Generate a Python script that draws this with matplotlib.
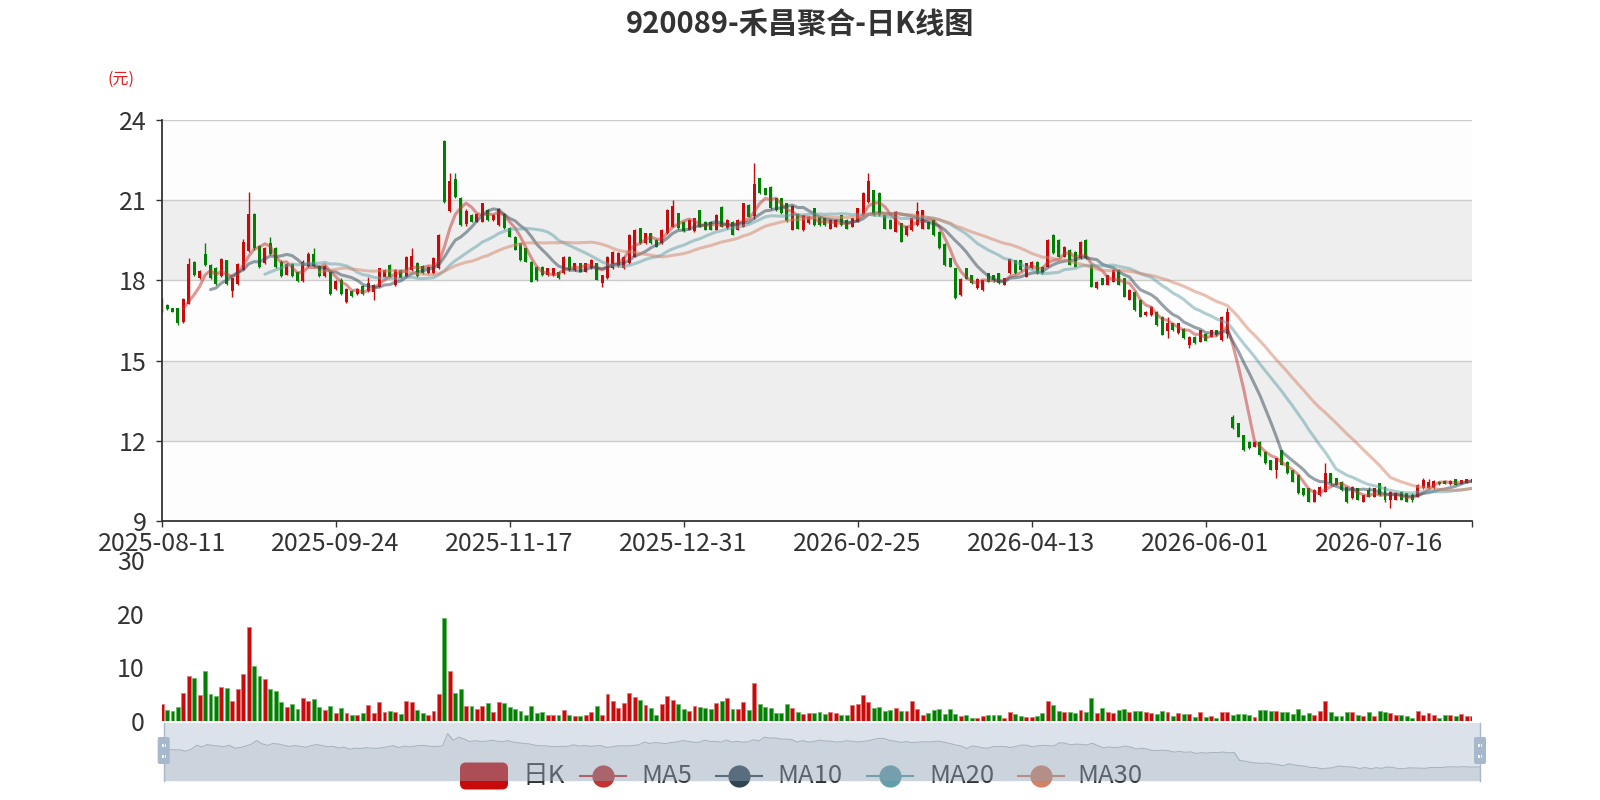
import numpy as np
import pandas as pd
import matplotlib
matplotlib.use("Agg")
import matplotlib.pyplot as plt
from matplotlib.patches import Rectangle, FancyBboxPatch

plt.rcParams['font.family'] = ['Noto Sans CJK SC', 'DejaVu Sans']

title = "920089-禾昌聚合-日K线图"
tick_dates = ["2025-08-11", "2025-09-24", "2025-11-17", "2025-12-31",
              "2026-02-25", "2026-04-13", "2026-06-01", "2026-07-16"]
legend_names = ["日K", "MA5", "MA10", "MA20", "MA30"]
ma_periods = [5, 10, 20, 30]

# daily OHLC (yuan)
opens = [16.88, 17.08, 16.95, 16.95, 16.45, 17.12, 18.70, 18.10, 19.00, 18.58,
         18.45, 18.15, 18.76, 17.60, 17.85, 18.40, 19.10, 20.50, 19.30, 18.65,
         19.40, 19.20, 18.70, 18.22, 18.60, 18.30, 17.98, 18.55, 19.00, 18.55,
         18.16, 18.30, 17.66, 18.00, 17.20, 17.62, 17.48, 17.80, 17.60, 17.55,
         17.77, 18.14, 18.58, 17.83, 18.39, 18.14, 18.39, 18.66, 18.55, 18.26,
         18.26, 18.45, 23.23, 20.60, 21.80, 21.10, 20.10, 20.45, 20.20, 20.20,
         20.63, 20.26, 20.07, 20.50, 19.95, 19.64, 19.39, 19.20, 18.70, 18.51,
         18.51, 18.20, 18.20, 18.33, 18.26, 18.89, 18.39, 18.64, 18.33, 18.45,
         18.64, 17.90, 18.08, 18.45, 18.52, 18.45, 18.64, 18.89, 19.95, 19.39,
         19.76, 19.52, 19.39, 19.76, 20.00, 20.51, 20.20, 19.89, 19.83, 20.63,
         20.20, 20.20, 19.89, 20.76, 19.95, 20.20, 19.89, 20.00, 20.82, 20.40,
         21.82, 21.45, 21.50, 21.07, 21.07, 20.88, 19.90, 20.50, 19.88, 20.13,
         20.69, 20.38, 20.32, 19.94, 20.01, 20.44, 20.26, 20.01, 20.19, 20.44,
         20.94, 21.38, 21.28, 20.44, 20.26, 19.82, 20.13, 19.69, 19.88, 20.07,
         19.94, 20.19, 20.26, 19.82, 19.38, 18.82, 18.45, 17.45, 18.45, 18.20,
         17.70, 17.64, 18.26, 18.20, 18.26, 17.83, 18.26, 18.76, 18.76, 18.14,
         18.45, 18.70, 18.51, 18.51, 19.70, 19.51, 18.89, 19.14, 19.07, 18.83,
         19.51, 18.58, 17.70, 18.08, 17.83, 17.95, 18.39, 18.08, 17.27, 17.58,
         17.27, 16.70, 16.70, 16.83, 16.64, 16.10, 16.39, 16.02, 16.20, 15.60,
         15.89, 15.71, 16.00, 15.89, 16.14, 15.77, 16.00, 12.90, 12.65, 12.20,
         11.96, 11.78, 11.96, 11.59, 11.28, 10.90, 11.65, 11.22, 10.90, 10.72,
         10.22, 10.22, 9.72, 9.97, 10.10, 10.78, 10.60, 10.47, 10.28, 9.85,
         10.22, 9.72, 10.16, 9.91, 10.41, 10.28, 9.79, 9.79, 10.10, 10.03,
         9.97, 9.91, 10.22, 10.22, 10.22, 10.47, 10.50, 10.38, 10.56, 10.40,
         10.43, 10.45]
closes = [17.27, 16.92, 16.83, 16.42, 17.30, 18.60, 18.20, 18.35, 18.58, 18.10,
          17.85, 18.80, 17.85, 18.08, 18.60, 19.45, 20.50, 19.20, 18.50, 19.20,
          18.98, 18.50, 18.18, 18.60, 18.16, 17.98, 18.70, 19.00, 18.55, 18.16,
          18.55, 17.50, 17.98, 17.50, 17.66, 17.42, 17.68, 17.48, 17.90, 17.83,
          18.45, 18.39, 18.14, 18.39, 18.10, 18.89, 18.90, 18.16, 18.26, 18.51,
          18.83, 19.70, 20.95, 21.70, 21.13, 20.07, 20.60, 20.20, 20.50, 20.88,
          20.26, 20.45, 20.66, 19.95, 19.64, 19.14, 18.76, 18.70, 17.95, 18.00,
          18.20, 18.45, 18.45, 18.08, 18.89, 18.39, 18.64, 18.33, 18.64, 18.77,
          18.02, 18.20, 18.89, 19.08, 19.02, 18.89, 19.70, 19.89, 19.39, 19.76,
          19.39, 19.26, 19.89, 20.63, 20.80, 19.95, 19.83, 20.26, 20.32, 20.00,
          19.89, 19.89, 20.45, 20.00, 20.26, 19.70, 20.26, 20.88, 20.39, 21.60,
          21.26, 21.20, 20.70, 20.63, 20.51, 20.22, 20.80, 19.94, 20.44, 20.38,
          20.07, 20.07, 20.07, 20.26, 20.26, 20.07, 19.94, 20.32, 20.69, 21.28,
          21.70, 20.44, 20.44, 19.94, 19.94, 20.57, 19.45, 20.03, 20.32, 20.60,
          20.63, 19.94, 19.69, 19.20, 18.57, 18.51, 17.33, 18.07, 18.07, 17.89,
          18.07, 18.01, 17.95, 18.00, 17.90, 18.08, 18.79, 18.26, 18.39, 18.64,
          18.70, 18.26, 18.26, 19.51, 19.01, 18.89, 19.26, 18.58, 18.51, 19.45,
          18.83, 17.77, 17.95, 17.83, 18.20, 18.39, 17.83, 17.39, 17.64, 16.89,
          16.64, 16.83, 17.02, 16.33, 15.96, 16.40, 16.14, 16.39, 15.84, 15.90,
          15.64, 16.14, 15.75, 16.14, 15.95, 16.64, 16.80, 12.47, 12.15, 11.65,
          11.72, 11.96, 11.47, 11.16, 10.91, 11.34, 11.10, 10.78, 10.47, 10.03,
          9.97, 9.72, 10.16, 10.28, 10.80, 10.41, 10.35, 10.16, 9.72, 10.28,
          9.79, 9.97, 9.91, 10.22, 9.97, 9.79, 10.10, 10.03, 9.79, 9.72,
          9.80, 10.35, 10.55, 10.47, 10.50, 10.38, 10.40, 10.50, 10.35, 10.53,
          10.56, 10.58]
highs = [17.35, 17.12, 16.98, 16.98, 17.35, 18.83, 18.72, 18.38, 19.41, 18.60,
         18.51, 18.83, 18.78, 18.10, 18.66, 19.54, 21.32, 20.51, 19.32, 19.26,
         19.64, 19.26, 18.76, 18.64, 18.64, 18.33, 18.76, 19.07, 19.20, 18.58,
         18.58, 18.33, 18.01, 18.08, 17.70, 17.64, 17.70, 17.83, 18.14, 17.85,
         18.48, 18.42, 18.60, 18.42, 18.42, 18.92, 19.20, 18.68, 18.58, 18.53,
         18.86, 19.74, 23.25, 22.00, 22.00, 21.13, 20.66, 20.48, 20.53, 20.90,
         20.66, 20.48, 20.70, 20.52, 19.98, 19.66, 19.41, 19.22, 18.72, 18.53,
         18.53, 18.47, 18.47, 18.35, 18.92, 18.92, 18.66, 18.66, 18.66, 18.80,
         18.66, 18.22, 18.92, 19.10, 19.05, 18.92, 19.72, 19.92, 19.97, 19.78,
         19.78, 19.54, 19.92, 20.66, 21.00, 20.53, 20.22, 20.28, 20.35, 20.65,
         20.22, 20.22, 20.48, 20.78, 20.28, 20.22, 20.28, 20.90, 20.84, 22.38,
         21.84, 21.47, 21.52, 21.09, 21.09, 20.90, 20.82, 20.52, 20.46, 20.40,
         20.71, 20.40, 20.34, 20.28, 20.28, 20.46, 20.28, 20.34, 20.71, 21.30,
         22.00, 21.40, 21.30, 20.46, 20.28, 20.59, 20.15, 20.05, 20.34, 20.94,
         20.65, 20.21, 20.28, 19.84, 19.40, 18.84, 18.47, 18.09, 18.47, 18.22,
         18.09, 18.03, 18.28, 18.22, 18.28, 18.10, 18.81, 18.78, 18.78, 18.66,
         18.72, 18.72, 18.53, 19.53, 19.72, 19.53, 19.28, 19.16, 19.09, 19.47,
         19.53, 18.60, 17.97, 18.10, 18.22, 18.41, 18.41, 18.10, 17.66, 17.60,
         17.29, 16.85, 17.04, 16.85, 16.66, 16.64, 16.41, 16.41, 16.22, 15.92,
         15.91, 16.16, 16.02, 16.16, 16.16, 16.66, 16.95, 12.95, 12.67, 12.22,
         11.98, 11.98, 11.98, 11.61, 11.30, 11.36, 11.67, 11.24, 10.92, 10.74,
         10.24, 10.24, 10.18, 10.30, 11.16, 10.80, 10.62, 10.49, 10.30, 10.30,
         10.24, 9.99, 10.28, 10.24, 10.43, 10.30, 10.12, 10.10, 10.12, 10.05,
         10.03, 10.37, 10.60, 10.56, 10.52, 10.49, 10.52, 10.52, 10.58, 10.55,
         10.58, 10.60]
lows = [16.83, 16.88, 16.80, 16.35, 16.40, 17.10, 18.15, 18.05, 18.55, 18.05,
        17.83, 18.14, 17.83, 17.39, 17.83, 18.39, 19.07, 19.14, 18.45, 18.61,
        18.95, 18.45, 18.14, 18.20, 18.14, 17.95, 17.95, 18.51, 18.51, 18.14,
        18.14, 17.45, 17.64, 17.45, 17.14, 17.39, 17.45, 17.45, 17.55, 17.27,
        17.75, 18.12, 18.12, 17.80, 18.08, 18.12, 18.36, 18.14, 18.24, 18.24,
        18.24, 18.42, 20.90, 20.57, 21.10, 20.05, 20.05, 20.18, 20.18, 20.18,
        20.24, 20.24, 20.05, 19.93, 19.62, 19.12, 18.74, 18.68, 17.93, 17.98,
        18.18, 18.18, 18.18, 18.06, 18.24, 18.37, 18.37, 18.31, 18.31, 18.43,
        18.00, 17.77, 18.06, 18.43, 18.50, 18.43, 18.62, 18.87, 19.37, 19.37,
        19.37, 19.24, 19.37, 19.74, 19.98, 19.93, 19.81, 19.87, 19.81, 19.98,
        19.87, 19.87, 19.87, 19.98, 19.93, 19.68, 19.87, 19.98, 20.37, 20.30,
        21.24, 21.18, 20.68, 20.61, 20.49, 20.19, 19.88, 19.92, 19.86, 20.11,
        20.05, 20.05, 20.05, 19.92, 19.99, 20.05, 19.92, 19.99, 20.17, 20.42,
        20.90, 20.42, 20.42, 19.92, 19.92, 19.80, 19.43, 19.67, 19.86, 20.05,
        19.92, 19.92, 19.67, 19.18, 18.55, 18.49, 17.31, 17.43, 18.05, 17.87,
        17.68, 17.62, 17.93, 17.95, 17.88, 17.81, 18.24, 18.24, 18.37, 18.12,
        18.43, 18.24, 18.24, 18.49, 18.99, 18.87, 18.87, 18.56, 18.49, 18.81,
        18.81, 17.75, 17.68, 17.81, 17.81, 17.93, 17.81, 17.37, 17.25, 16.87,
        16.62, 16.68, 16.68, 16.31, 15.94, 15.84, 16.12, 16.00, 15.82, 15.46,
        15.62, 15.69, 15.73, 15.87, 15.93, 15.75, 15.83, 12.45, 12.13, 11.63,
        11.70, 11.76, 11.45, 11.14, 10.89, 10.60, 11.08, 10.76, 10.45, 10.01,
        9.95, 9.70, 9.70, 9.95, 10.08, 10.39, 10.33, 10.14, 9.66, 9.83,
        9.77, 9.70, 9.89, 9.89, 9.95, 9.72, 9.47, 9.77, 9.77, 9.70,
        9.72, 9.89, 10.20, 10.20, 10.20, 10.36, 10.38, 10.36, 10.33, 10.38,
        10.41, 10.43]
# daily volume (axis units as shown)
volumes = [3.2, 2.05, 1.8, 2.6, 5.2, 8.4, 8.0, 4.9, 9.3, 5.05,
           4.75, 6.4, 6.2, 3.7, 6.0, 8.7, 17.6, 10.3, 8.4, 7.75,
           5.9, 5.6, 3.45, 2.7, 3.1, 2.25, 4.3, 3.8, 4.1, 2.7,
           2.0, 2.75, 1.47, 2.4, 1.47, 1.2, 1.2, 1.47, 2.95, 1.5,
           3.45, 1.66, 1.9, 1.66, 1.3, 3.7, 3.45, 2.0, 1.47, 1.2,
           1.8, 5.05, 19.2, 9.3, 5.25, 5.9, 2.8, 2.75, 2.25, 2.8,
           3.3, 1.66, 3.5, 3.3, 2.6, 2.2, 1.8, 1.2, 2.75, 1.47,
           1.66, 1.2, 1.1, 1.1, 2.0, 1.1, 1.0, 1.0, 1.1, 1.66,
           2.75, 1.2, 5.0, 3.65, 2.4, 3.4, 5.2, 4.5, 4.0, 3.0,
           2.4, 1.2, 3.1, 4.6, 4.0, 3.2, 2.25, 1.85, 2.75, 2.6,
           2.4, 2.25, 3.4, 3.8, 4.35, 2.2, 2.2, 3.45, 2.0, 7.1,
           3.1, 2.6, 2.5, 1.47, 1.47,
           3.2, 2.4, 1.7, 1.3, 1.45, 1.45, 1.7, 1.3, 1.7, 1.45,
           1.1, 1.1, 2.9, 3.2, 4.8, 3.5, 2.5, 2.6, 1.9, 2.0,
           2.35, 1.8, 1.8, 3.75, 2.2, 1.15, 1.5, 2.0, 2.2, 1.3,
           2.2, 1.3, 0.95, 1.15, 0.65, 0.65, 0.95, 1.1, 1.1, 1.1,
           0.5, 1.65, 1.3, 0.95, 0.8, 0.75, 0.95, 1.45, 3.7, 3.05,
           1.8, 1.6, 1.7, 1.45, 2.1, 1.6, 4.3, 1.5, 2.4, 1.65,
           1.5, 2.0, 2.2, 1.6, 1.9, 1.9, 1.7, 1.5, 1.3, 1.85,
           1.7, 0.95, 1.5, 1.3, 1.3, 0.75, 1.6, 0.8, 0.95, 0.65,
           1.6, 1.7, 1.1, 1.3, 1.3, 1.15, 0.8, 2.0, 2.0, 1.9,
           1.9, 1.7, 1.7, 1.3, 2.2, 1.2, 1.4, 1.15, 1.9, 3.8,
           1.7, 0.95, 0.95, 1.7, 1.6, 1.2, 0.95, 1.65, 0.95, 1.85,
           1.7, 1.45, 1.15, 1.15, 0.9, 0.5, 1.85, 1.15, 1.4, 1.2,
           0.55, 1.1, 1.1, 0.95, 1.3, 0.95, 1.0]

UP = "#c80a0a"
DOWN = "#008000"
MA_COLORS = ["#c23531", "#2f4554", "#61a0a8", "#d48265"]
TXT = "#333333"

o = np.array(opens)
c = np.array(closes)
h = np.array(highs)
l = np.array(lows)
v = np.array(volumes)
n = len(c)
x = np.arange(n)
up = c >= o
cols = np.where(up, UP, DOWN)

W, H = 1600, 800
def box(left, top, right, bottom):
    return [left / W, 1 - bottom / H, (right - left) / W, (bottom - top) / H]

fig = plt.figure(figsize=(16, 8), dpi=100)

# ---- candlestick panel ----
ax = fig.add_axes(box(161.6, 120, 1472, 521))
for i, lo in enumerate(range(9, 24, 3)):
    ax.axhspan(lo, lo + 3, color="#fdfdfd" if i % 2 == 0 else "#eeeeee", lw=0, zorder=0)
for yv in [12, 15, 18, 21, 24]:
    ax.axhline(yv, color="#cccccc", lw=1, zorder=1)

ax.vlines(x, l, h, colors=cols, lw=1, zorder=3)
body = np.maximum(np.abs(c - o), 0.04)
ax.bar(x, body, bottom=np.minimum(o, c), width=0.55, color=cols, lw=0, zorder=3)

s = pd.Series(c)
for p, colr in zip(ma_periods, MA_COLORS):
    ax.plot(x, s.rolling(p).mean(), color=colr, alpha=0.5, lw=2.2, zorder=4,
            solid_capstyle="round", solid_joinstyle="round")

ax.set_xlim(0, n - 1)
ax.set_ylim(9, 24)
ax.set_yticks([9, 12, 15, 18, 21, 24])
ax.set_xticks(list(range(0, n, 32)))
ax.set_xticklabels(tick_dates)
ax.set_xticks([n - 1], minor=True)
for side in ["top", "right"]:
    ax.spines[side].set_visible(False)
for side in ["left", "bottom"]:
    ax.spines[side].set_color(TXT)
    ax.spines[side].set_linewidth(1.3)
    ax.spines[side].set_zorder(5)
ax.tick_params(axis="both", which="both", colors=TXT, labelsize=18, length=4, width=1)
ax.tick_params(axis="y", pad=7)
ax.tick_params(axis="x", pad=3)

# ---- volume panel ----
axv = fig.add_axes(box(161.6, 560, 1472, 721))
vcols = np.where(up, UP, DOWN)
ecols = np.where(up, "#e07a7a", "#6fb86f")
axv.bar(x, v, width=0.72, color=vcols, edgecolor=ecols, lw=0.6)
axv.set_xlim(0, n - 1)
axv.set_ylim(0, 30)
axv.set_yticks([0, 10, 20, 30])
axv.set_xticks([])
for side in axv.spines:
    axv.spines[side].set_visible(False)
axv.tick_params(axis="y", colors=TXT, labelsize=18, length=0, pad=12)

# ---- texts ----
fig.text(800 / W, 1 - 24 / H, title, ha="center", va="center", fontsize=21,
         fontweight="bold", color=TXT)
fig.text(121 / W, 1 - 79 / H, "(元)", ha="center", va="center", fontsize=11.5, color="#e02020")

# ---- legend (drawn beneath the zoom slider) ----
axl = fig.add_axes([0, 0, 1, 1], zorder=3)
axl.set_xlim(0, W)
axl.set_ylim(H, 0)
axl.axis("off")
axl.patch.set_alpha(0)
ly = 776
axl.add_patch(FancyBboxPatch((460, ly - 13.5), 48, 27, boxstyle="round,pad=0,rounding_size=6",
                             fc=UP, ec="none"))
axl.text(522, ly, legend_names[0], ha="left", va="center", fontsize=18.5, color=TXT)
icon_x = [603, 739, 890, 1041]
text_x = [641, 777, 929, 1077]
for name, ix, tx, colr in zip(legend_names[1:], icon_x, text_x, MA_COLORS):
    axl.plot([ix - 23, ix + 23], [ly, ly], color=colr, lw=1.5)
    axl.plot([ix], [ly], marker="o", ms=16, color=colr, mec="none")
    axl.text(tx, ly, name, ha="left", va="center", fontsize=18.5, color=TXT)

# ---- dataZoom slider ----
axz = fig.add_axes(box(163.7, 723, 1480, 781), zorder=4)
axz.patch.set_alpha(0)
axz.add_patch(Rectangle((0, 0), 1, 1, transform=axz.transAxes,
                        fc=(167 / 255, 183 / 255, 204 / 255, 0.4), ec="none"))
axz.fill_between(x, o, 5.06, color="#2f4554", alpha=0.09, lw=0)
axz.plot(x, o, color="#2f4554", alpha=0.3, lw=0.7)
axz.set_xlim(0, n - 1)
axz.set_ylim(5.06, 27.2)
axz.axis("off")

axh = fig.add_axes([0, 0, 1, 1], zorder=5)
axh.set_xlim(0, W)
axh.set_ylim(H, 0)
axh.axis("off")
axh.patch.set_alpha(0)
for hx in [163.7, 1480]:
    axh.plot([hx, hx], [723, 781], color="#a7b7cc", lw=1)
    axh.add_patch(FancyBboxPatch((hx - 6, 737), 12, 27, boxstyle="round,pad=0,rounding_size=2",
                                 fc="#a7b7cc", ec="none"))
    for gy in [744, 755]:
        axh.add_patch(Rectangle((hx - 2, gy), 4, 3, fc="white", ec="none"))

fig.savefig("out.png", dpi=100)
